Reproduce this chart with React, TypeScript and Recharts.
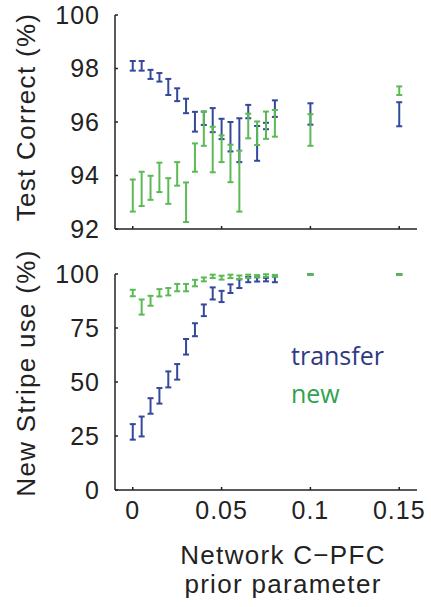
import { ScatterChart, Scatter, XAxis, YAxis, ErrorBar, Legend } from 'recharts';

const priorParam = [0, 0.005, 0.01, 0.015, 0.02, 0.025, 0.03, 0.035, 0.04, 0.045, 0.05, 0.055, 0.06, 0.065, 0.07, 0.075, 0.08, 0.1, 0.15];

// Test correct (%)
const testTransfer = [98.1, 98.1, 97.78, 97.67, 97.31, 97.02, 96.6, 96.01, 96.14, 96.07, 95.74, 95.45, 95.32, 96.39, 95.2, 95.85, 96.5, 96.3, 96.29];
const testTransferErr = [0.18, 0.18, 0.17, 0.16, 0.3, 0.24, 0.27, 0.37, 0.25, 0.45, 0.38, 0.55, 0.82, 0.25, 0.65, 0.12, 0.31, 0.4, 0.45];
const testNew = [93.25, 93.5, 93.54, 93.93, 93.42, 94.06, 93.0, 94.67, 95.75, 94.97, 95.0, 94.45, 93.79, 95.85, 95.58, 95.88, 95.95, 95.7, 97.17];
const testNewErr = [0.6, 0.64, 0.45, 0.55, 0.48, 0.44, 0.74, 0.53, 0.64, 0.85, 0.5, 0.7, 1.14, 0.46, 0.44, 0.51, 0.5, 0.59, 0.16];

// New stripe use (%)
const stripeTransfer = [26.9, 29.4, 38.9, 43.6, 51.2, 54.7, 66.3, 74.2, 83.2, 91.0, 89.6, 93.2, 95.5, 97.4, 97.5, 97.4, 97.5, 99.8, 99.8];
const stripeTransferErr = [3.6, 4.6, 3.6, 3.6, 3.7, 3.6, 3.6, 3.0, 2.7, 2.8, 2.6, 2.0, 2.0, 1.2, 1.0, 0.8, 1.3, 0.1, 0.1];
const stripeNew = [91.2, 84.7, 87.6, 91.3, 91.8, 93.7, 93.7, 95.8, 97.5, 98.9, 98.3, 98.9, 98.5, 98.9, 99.0, 99.3, 99.2, 99.7, 99.7];
const stripeNewErr = [1.5, 3.5, 2.3, 1.7, 1.7, 1.7, 1.7, 1.5, 0.9, 0.8, 0.9, 0.8, 0.8, 0.8, 0.5, 0.6, 0.4, 0.2, 0.2];

const seriesNames = ['transfer', 'new'];
const xTicks = [0, 0.05, 0.1, 0.15];
const testTicks = [92, 94, 96, 98, 100];
const stripeTicks = [0, 25, 50, 75, 100];

const BLUE = '#34489c';
const GREEN = '#5cba55';
const FONT = '"Liberation Sans", Arial, sans-serif';
const AXIS = '#222';

const toRows = (ys: number[], errs: number[]) =>
  priorParam.map((x, i) => ({ x, y: ys[i], err: errs[i] }));

const noDot = () => <g />;

const tickStyle = { fontSize: 25, fill: '#222', fontFamily: FONT, letterSpacing: 1 };

function LegendText({ payload }: any) {
  const items = [...(payload || [])].sort(
    (a: any, b: any) => seriesNames.indexOf(a.value) - seriesNames.indexOf(b.value)
  );
  return (
    <div style={{ fontFamily: '"Open Sans", sans-serif', fontSize: 25, lineHeight: '38px' }}>
      {items.map((p: any) => (
        <div key={p.value} style={{ color: p.value === 'transfer' ? '#2e3a84' : '#2fa24f' }}>
          {p.value}
        </div>
      ))}
    </div>
  );
}

export default function App() {
  return (
    <div style={{ position: 'absolute', left: 0, top: 0, width: 431, height: 607, background: '#fff', overflow: 'hidden' }}>
      <div style={{ position: 'absolute', left: 0, top: 0 }}>
        <ScatterChart width={431} height={250} margin={{ top: 15, right: 14, bottom: 1, left: 55 }}>
          <XAxis
            type="number"
            dataKey="x"
            domain={[-0.01, 0.16]}
            ticks={xTicks}
            tickFormatter={() => ''}
            height={20}
            tickSize={-3}
            stroke={AXIS}
            strokeWidth={1.5}
          />
          <YAxis
            type="number"
            dataKey="y"
            domain={[92, 100]}
            ticks={testTicks}
            width={60}
            tickSize={-3}
            tickMargin={18}
            tick={tickStyle}
            stroke={AXIS}
            strokeWidth={1.5}
            allowDataOverflow
          />
          <Scatter name="transfer" data={toRows(testTransfer, testTransferErr)} fill={BLUE} shape={noDot} isAnimationActive={false}>
            <ErrorBar dataKey="err" direction="y" width={3} stroke={BLUE} strokeWidth={2} isAnimationActive={false} />
          </Scatter>
          <Scatter name="new" data={toRows(testNew, testNewErr)} fill={GREEN} shape={noDot} isAnimationActive={false}>
            <ErrorBar dataKey="err" direction="y" width={3} stroke={GREEN} strokeWidth={2} isAnimationActive={false} />
          </Scatter>
        </ScatterChart>
      </div>

      <div style={{ position: 'absolute', left: 0, top: 250 }}>
        <ScatterChart width={431} height={300} margin={{ top: 24, right: 14, bottom: 10, left: 55 }}>
          <XAxis
            type="number"
            dataKey="x"
            domain={[-0.01, 0.16]}
            ticks={xTicks}
            height={50}
            tickSize={-3}
            tickMargin={14}
            tick={tickStyle}
            stroke={AXIS}
            strokeWidth={1.5}
          />
          <YAxis
            type="number"
            dataKey="y"
            domain={[0, 100]}
            ticks={stripeTicks}
            width={60}
            tickSize={-3}
            tickMargin={18}
            tick={tickStyle}
            stroke={AXIS}
            strokeWidth={1.5}
          />
          <Legend
            layout="vertical"
            align="center"
            verticalAlign="middle"
            content={LegendText}
            wrapperStyle={{ left: 291, top: 86, width: 130, height: 80 }}
          />
          <Scatter name="transfer" data={toRows(stripeTransfer, stripeTransferErr)} fill={BLUE} shape={noDot} isAnimationActive={false}>
            <ErrorBar dataKey="err" direction="y" width={3} stroke={BLUE} strokeWidth={2} isAnimationActive={false} />
          </Scatter>
          <Scatter name="new" data={toRows(stripeNew, stripeNewErr)} fill={GREEN} shape={noDot} isAnimationActive={false}>
            <ErrorBar dataKey="err" direction="y" width={3} stroke={GREEN} strokeWidth={2} isAnimationActive={false} />
          </Scatter>
        </ScatterChart>
      </div>

      <svg width={431} height={607} style={{ position: 'absolute', left: 0, top: 0, pointerEvents: 'none' }}>
        <g fontFamily={FONT} fontSize={26} fill="#222" letterSpacing={1.3}>
          <text x={26} y={117} transform="rotate(-90 26 117)" textAnchor="middle" dominantBaseline="central">
            Test Correct (%)
          </text>
          <text x={26} y={373} transform="rotate(-90 26 373)" textAnchor="middle" dominantBaseline="central">
            New Stripe use (%)
          </text>
          <text x={283} y={564} textAnchor="middle">
            Network C−PFC
          </text>
          <text x={283} y={593} textAnchor="middle">
            prior parameter
          </text>
        </g>
      </svg>
    </div>
  );
}
